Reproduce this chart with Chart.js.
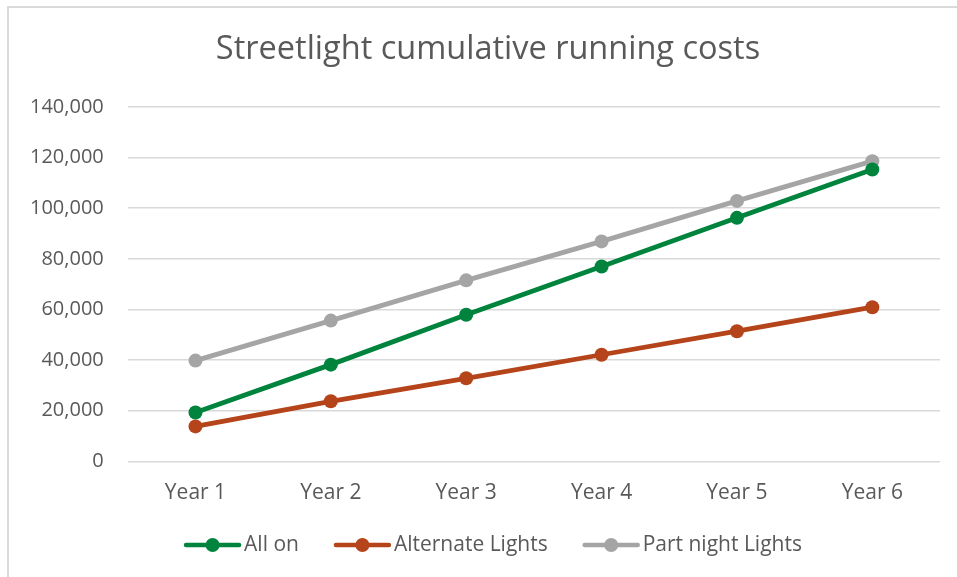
<!DOCTYPE html>
<html>
<head>
<meta charset="utf-8">
<script src="https://cdn.jsdelivr.net/npm/chart.js@4/dist/chart.umd.min.js"></script>
<style>
  html, body { margin: 0; padding: 0; background: #fff; overflow: hidden; }
  #wrap { position: relative; width: 957px; height: 577px; }
  #frame { position: absolute; left: 7px; top: 6px; width: 1000px; height: 1000px;
    border: 2px solid #d9d9d9; pointer-events: none; }
</style>
</head>
<body>
<div id="wrap">
  <canvas id="myChart" width="957" height="577"></canvas>
  <div id="frame"></div>
</div>
<script>
const years = ["Year 1", "Year 2", "Year 3", "Year 4", "Year 5", "Year 6"];
const allOn = [19300, 38200, 57900, 77000, 96200, 115300];
const alternateLights = [13800, 23700, 32800, 42100, 51400, 60900];
const partNight = [39800, 55600, 71500, 86900, 102900, 118600];
const seriesNames = ["All on", "Alternate Lights", "Part night Lights"];
const colorHex = ["#00843d", "#b5441a", "#a5a5a5"];
const chartTitle = "Streetlight cumulative running costs";

const fontName = "'Open Sans', 'Noto Sans', sans-serif";
const textColor = "#595959";

// title and legend are drawn by hand so they can sit where the original has them
const titleLegend = {
  id: "titleLegend",
  afterDraw(chart) {
    const c = chart.ctx;
    c.save();
    c.fillStyle = textColor;
    c.textAlign = "center";
    c.textBaseline = "middle";
    c.font = "32.5px " + fontName;
    c.fillText(chartTitle, 488, 50);

    c.font = "21px " + fontName;
    c.textAlign = "left";
    const lineW = 57, gapText = 3, gapItem = 35, y = 545;
    const widths = chart.data.datasets.map((d) => c.measureText(d.label).width);
    let total = 0;
    widths.forEach((w, i) => {
      total += lineW + gapText + w + (i < widths.length - 1 ? gapItem : 0);
    });
    let x = 493 - total / 2;
    chart.data.datasets.forEach((d, i) => {
      c.strokeStyle = d.borderColor;
      c.fillStyle = d.borderColor;
      c.lineWidth = 4.5;
      c.lineCap = "round";
      c.beginPath();
      c.moveTo(x + 2, y);
      c.lineTo(x + lineW - 2, y);
      c.stroke();
      c.beginPath();
      c.arc(x + lineW / 2, y, 7, 0, Math.PI * 2);
      c.fill();
      c.fillStyle = textColor;
      c.fillText(d.label, x + lineW + gapText, y);
      x += lineW + gapText + widths[i] + gapItem;
    });
    c.restore();
  },
};

function makeSet(i, data) {
  return {
    label: seriesNames[i],
    data: data,
    borderColor: colorHex[i],
    backgroundColor: colorHex[i],
    borderWidth: 4.8,
    pointRadius: 7,
    pointHoverRadius: 7,
    pointBorderWidth: 0,
    tension: 0,
  };
}

let ctx = document.getElementById("myChart").getContext("2d");
let myChart = new Chart(ctx, {
  type: "line",
  data: {
    labels: years,
    datasets: [makeSet(0, allOn), makeSet(1, alternateLights), makeSet(2, partNight)],
  },
  plugins: [titleLegend],
  options: {
    responsive: false,
    animation: false,
    layout: { padding: { left: 6, right: 17, top: 107, bottom: 51.5 } },
    plugins: {
      title: { display: false },
      legend: { display: false },
      tooltip: { enabled: false },
    },
    scales: {
      x: {
        offset: true,
        grid: { display: false, drawTicks: false },
        border: { display: false },
        ticks: { color: textColor, font: { family: fontName, size: 21 }, padding: 19.5 },
      },
      y: {
        min: 0,
        max: 140000,
        ticks: {
          stepSize: 20000,
          color: textColor,
          font: { family: fontName, size: 20 },
          padding: 24,
          callback: (v) => v.toLocaleString("en-US"),
        },
        grid: { color: "#d9d9d9", lineWidth: 1.5, drawTicks: false },
        border: { display: false },
      },
    },
  },
});
</script>
</body>
</html>
